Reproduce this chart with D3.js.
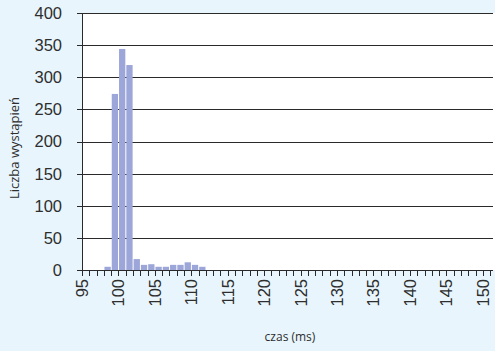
<!DOCTYPE html>
<html>
<head>
<meta charset="utf-8">
<script src="https://cdn.jsdelivr.net/npm/d3@7"></script>
<style>
  html, body { margin: 0; padding: 0; background: #e8f5fd; }
  svg { display: block; }
</style>
</head>
<body>
<svg id="chart" width="495" height="351"></svg>
<script>
// Histogram bins: left edge of each 1 ms bin and the count in it
const binStart = [98, 99, 100, 101, 102, 103, 104, 105, 106, 107, 108, 109, 110, 111];
const counts   = [5, 274, 344, 319, 17, 8, 9, 5, 5, 8, 8, 12, 8, 5];
const xTickLabels = [95, 100, 105, 110, 115, 120, 125, 130, 135, 140, 145, 150];
const yTickLabels = [0, 50, 100, 150, 200, 250, 300, 350, 400];
const xTitle = "czas (ms)";
const yTitle = "Liczba wystąpień";

(function () {
const svg = d3.select("#chart");
const W = 495, H = 351;
const mLeft = 82, mRight = 493, mTop = 13, mBottom = 270;

const x = d3.scaleLinear().domain([95, 151.4]).range([mLeft, mRight]);
const y = d3.scaleLinear().domain([0, 400]).range([mBottom, mTop]);

svg.append("rect").attr("width", W).attr("height", H).attr("fill", "#e8f5fd");
svg.append("rect").attr("x", mLeft).attr("y", mTop)
  .attr("width", W - mLeft).attr("height", mBottom - mTop).attr("fill", "#ffffff");

const textColor = "#2e2e2e";
const lineColor = "#2a2a2a";

// gridlines
svg.append("g").selectAll("line").data(yTickLabels).join("line")
  .attr("x1", mLeft).attr("x2", mRight)
  .attr("y1", d => Math.round(y(d)) + 0.5).attr("y2", d => Math.round(y(d)) + 0.5)
  .attr("stroke", lineColor).attr("stroke-width", 1);

// bars
svg.append("g").selectAll("rect").data(binStart).join("rect")
  .attr("x", d => x(d) + 0.6)
  .attr("width", d => x(d + 1) - x(d) - 1)
  .attr("y", (d, i) => y(counts[i]))
  .attr("height", (d, i) => mBottom - y(counts[i]))
  .attr("fill", "#9ca6d8");

// y axis line and ticks
svg.append("line").attr("x1", mLeft + 0.5).attr("x2", mLeft + 0.5)
  .attr("y1", mTop).attr("y2", mBottom + 6).attr("stroke", lineColor);
svg.append("g").selectAll("line").data(yTickLabels).join("line")
  .attr("x1", mLeft - 5).attr("x2", mLeft)
  .attr("y1", d => Math.round(y(d)) + 0.5).attr("y2", d => Math.round(y(d)) + 0.5)
  .attr("stroke", lineColor);
svg.append("g").selectAll("text").data(yTickLabels).join("text")
  .attr("x", 62).attr("y", d => y(d))
  .attr("dy", "0.36em")
  .attr("text-anchor", "end")
  .attr("font-family", "Liberation Sans, Arial, sans-serif")
  .attr("font-size", 16.5)
  .attr("fill", textColor)
  .text(d => d);

// x axis ticks (every ms)
const xTicks = d3.range(95, 152);
svg.append("g").selectAll("line").data(xTicks).join("line")
  .attr("x1", d => Math.round(x(d)) + 0.5).attr("x2", d => Math.round(x(d)) + 0.5)
  .attr("y1", mBottom).attr("y2", mBottom + 6)
  .attr("stroke", lineColor);
svg.append("g").selectAll("text").data(xTickLabels).join("text")
  .attr("transform", d => `translate(${x(d)},${279}) rotate(-90)`)
  .attr("dy", "0.36em")
  .attr("text-anchor", "end")
  .attr("font-family", "Liberation Sans, Arial, sans-serif")
  .attr("font-size", 16.5)
  .attr("fill", textColor)
  .text(d => d);

// titles
svg.append("text")
  .attr("x", 290).attr("y", 341)
  .attr("text-anchor", "middle")
  .attr("font-family", "Open Sans, sans-serif")
  .attr("font-size", 12)
  .attr("fill", textColor)
  .text(xTitle);
svg.append("text")
  .attr("transform", `translate(19,148) rotate(-90)`)
  .attr("text-anchor", "middle")
  .attr("font-family", "Open Sans, sans-serif")
  .attr("font-size", 13)
  .attr("fill", textColor)
  .text(yTitle);
})();
</script>
</body>
</html>
